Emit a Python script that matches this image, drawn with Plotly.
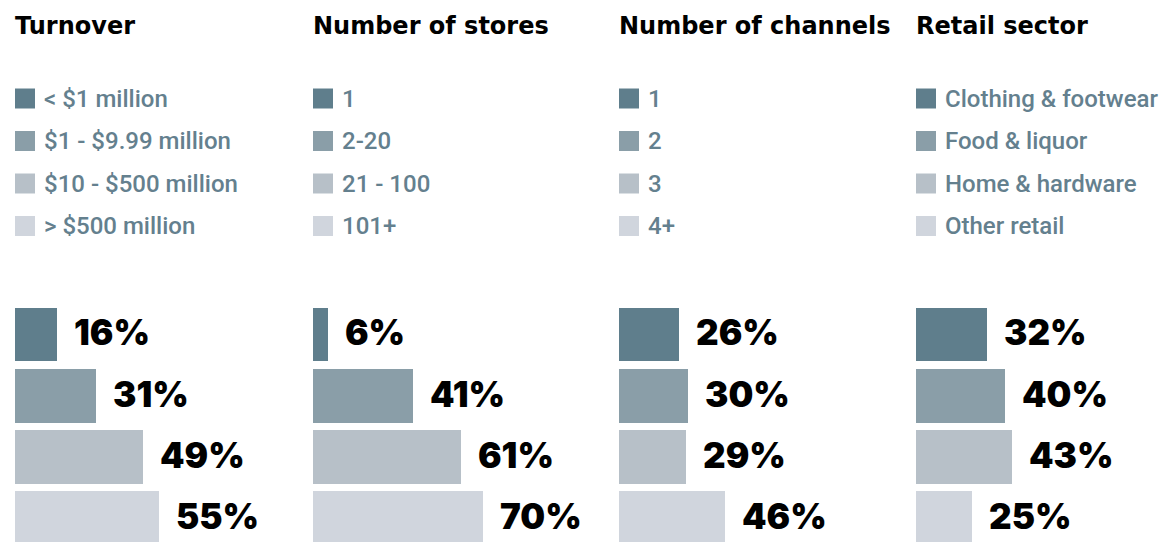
import plotly.graph_objects as go

# Panel titles and their legend labels
titles = ["Turnover", "Number of stores", "Number of channels", "Retail sector"]
legend_labels = [
    ["< $1 million", "$1 - $9.99 million", "$10 - $500 million", "> $500 million"],
    ["1", "2-20", "21 - 100", "101+"],
    ["1", "2", "3", "4+"],
    ["Clothing & footwear", "Food & liquor", "Home & hardware", "Other retail"],
]

# Share of respondents (%) per category
turnover = [16, 31, 49, 55]
stores = [6, 41, 61, 70]
channels = [26, 30, 29, 46]
sector = [32, 40, 43, 25]
panel_values = [turnover, stores, channels, sector]

colors = ["#5f7e8c", "#8a9ea8", "#b7c0c8", "#d0d5dd"]
legend_text_color = "#64808e"

W, H = 1165, 542
panel_left_px = [15, 313, 619, 916]
panel_px_per_pct = [2.61, 2.43, 2.30, 2.23]
panel_width_px = 240

fig = go.Figure()

bar_top_px = 300
for i, vals in enumerate(panel_values):
    n = i + 1
    xa = "x" if n == 1 else f"x{n}"
    ya = "y" if n == 1 else f"y{n}"
    fig.add_trace(go.Bar(
        x=vals, y=list(range(len(vals))), orientation="h",
        marker=dict(color=colors, line=dict(width=0)),
        width=0.88, xaxis=xa, yaxis=ya, hoverinfo="skip",
    ))
    left = panel_left_px[i]
    dom = [left / W, min(1.0, (left + panel_width_px) / W)]
    rng = [0, (dom[1] - dom[0]) * W / panel_px_per_pct[i]]
    axkw = dict(visible=False, fixedrange=True)
    fig.update_layout(**{
        ("xaxis" if n == 1 else f"xaxis{n}"): dict(domain=dom, range=rng, anchor=ya, **axkw),
        ("yaxis" if n == 1 else f"yaxis{n}"): dict(domain=[0, (H - bar_top_px) / H],
                                                    range=[3.387, -0.563], anchor=xa, **axkw),
    })
    # value labels beside each bar
    for j, v in enumerate(vals):
        fig.add_annotation(
            x=v, y=j, xref=xa, yref=ya, text=f"{v}%", showarrow=False,
            xanchor="left", yanchor="middle", xshift=15, yshift=2,
            font=dict(family="Inter", size=35, color="#000000", weight=900),
        )
    # panel title
    fig.add_annotation(
        x=left / W, y=1 - 26 / H, xref="paper", yref="paper", text=titles[i],
        showarrow=False, xanchor="left", yanchor="middle", xshift=-2,
        font=dict(family="DejaVu Sans", size=24, color="#000000", weight="bold"),
    )
    # legend swatches and labels
    for j, lab in enumerate(legend_labels[i]):
        cy = [98.5, 141, 183.5, 226][j]
        fig.add_shape(
            type="rect", xref="paper", yref="paper",
            x0=left / W, x1=(left + 20) / W,
            y0=1 - (cy + 10) / H, y1=1 - (cy - 10) / H,
            fillcolor=colors[j], line=dict(width=0),
        )
        fig.add_annotation(
            x=(left + 27) / W, y=1 - cy / H, xref="paper", yref="paper", text=lab,
            showarrow=False, xanchor="left", yanchor="middle",
            font=dict(family="Roboto", size=24, color=legend_text_color, weight=500),
        )

fig.update_layout(
    width=W, height=H, margin=dict(l=0, r=0, t=0, b=0),
    paper_bgcolor="white", plot_bgcolor="white",
    showlegend=False, bargap=0,
)

fig.write_html("out.html", config={"displayModeBar": False})
